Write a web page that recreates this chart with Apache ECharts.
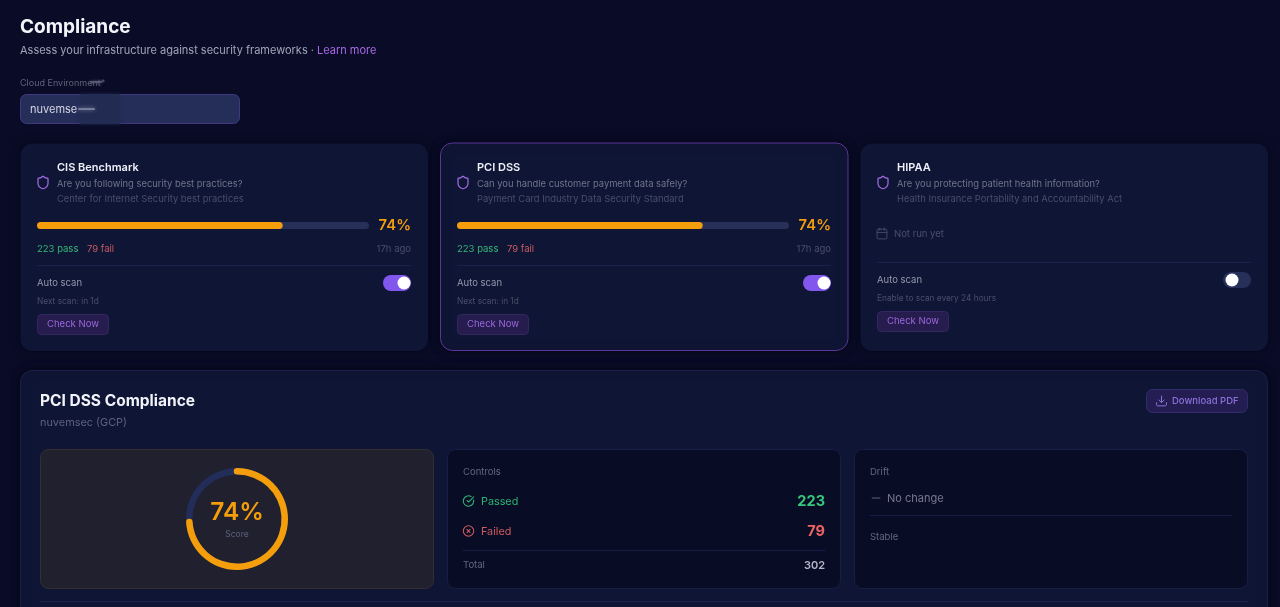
<!DOCTYPE html>
<html>
<head>
<meta charset="utf-8">
<title>Compliance</title>
<script src="https://cdn.jsdelivr.net/npm/echarts@6/dist/echarts.min.js"></script>
<style>
html,body{margin:0;padding:0;background:#0a0c27;overflow:hidden;}
#main{width:1280px;height:607px;}
</style>
</head>
<body>
<div id="main"></div>
<script>
// values
var frameworks = ['CIS Benchmark', 'PCI DSS', 'HIPAA'];
var questions = ['Are you following security best practices?', 'Can you handle customer payment data safely?', 'Are you protecting patient health information?'];
var descriptions = ['Center for Internet Security best practices', 'Payment Card Industry Data Security Standard', 'Health Insurance Portability and Accountability Act'];
var scores = [74, 74];
var passCounts = [223, 223];
var failCounts = [79, 79];
var lastRun = ['17h ago', '17h ago', 'Not run yet'];
var nextScan = ['Next scan: in 1d', 'Next scan: in 1d', 'Enable to scan every 24 hours'];
var selectedScore = [74];
var controlLabels = ['Passed', 'Failed', 'Total'];
var controlValues = [223, 79, 302];

var FONT = 'Inter, "Noto Sans", sans-serif';
var CARD_FILL = '#0f1535';
// graphic has no plain path type, so each icon is registered as a shape
var icons = {
    iconShield: 'M20 13c0 5-3.5 7.5-7.66 8.95a1 1 0 0 1-.67-.01C7.5 20.5 4 18 4 13V6a1 1 0 0 1 1-1c2 0 4.5-1.2 6.24-2.72a1.17 1.17 0 0 1 1.52 0C14.51 3.81 17 5 19 5a1 1 0 0 1 1 1z',
    iconCalendar: 'M8 2v4M16 2v4M5 4h14a2 2 0 0 1 2 2v14a2 2 0 0 1-2 2H5a2 2 0 0 1-2-2V6a2 2 0 0 1 2-2zM3 10h18',
    iconCheck: 'M21.8 10A10 10 0 1 1 17 3.34M9 11l3 3L22 4',
    iconCross: 'M12 2a10 10 0 1 0 0 20a10 10 0 1 0 0-20zM15 9l-6 6M9 9l6 6',
    iconDownload: 'M12 15V3M7 10l5 5l5-5M21 15v4a2 2 0 0 1-2 2H5a2 2 0 0 1-2-2v-4',
    iconMinus: 'M5 12h14'
};
for (var name in icons) {
    echarts.graphic.registerShape(name, echarts.graphic.extendPath(icons[name], {}));
}

var g = [];

function text(x, y, str, color, size, weight, align) {
    g.push({
        type: 'text', x: x, y: y, z: 5, silent: true,
        style: {
            text: String(str), fill: color, fontFamily: FONT, fontSize: size,
            fontWeight: weight || 400, textAlign: align || 'left', textVerticalAlign: 'middle'
        }
    });
}
function box(x, y, w, h, r, fill, stroke, extra) {
    var style = {fill: fill, stroke: stroke || null, lineWidth: stroke ? 1 : 0};
    for (var k in extra) { style[k] = extra[k]; }
    g.push({type: 'rect', z: 1, silent: true, shape: {x: x, y: y, width: w, height: h, r: r}, style: style});
}
function rule(x1, x2, y, color) {
    g.push({type: 'rect', z: 2, silent: true, shape: {x: x1, y: y, width: x2 - x1, height: 1}, style: {fill: color}});
}
function icon(type, cx, cy, size, color, width) {
    var s = size / 24;
    g.push({
        type: type, z: 5, silent: true, x: cx - size / 2, y: cy - size / 2, scaleX: s, scaleY: s,
        style: {fill: 'none', stroke: color, lineWidth: width / s, lineCap: 'round', lineJoin: 'round'}
    });
}
function toggle(x, y, on) {
    box(x, y, 28, 16, 8, on ? '#8257ee' : '#273059');
    g.push({type: 'circle', z: 3, silent: true, shape: {cx: on ? x + 21 : x + 9, cy: y + 8, r: 6.5}, style: {fill: '#ffffff'}});
}
function checkButton(x, y, w) {
    box(x + .5, y + .5, w, 20, 4, '#261c4e', '#33275f');
    text(x + w / 2 + .5, y + 10.5, 'Check Now', '#9a68dc', 9.5, 400, 'center');
}

// header
text(20, 27, 'Compliance', '#f4f5fa', 19, 700);
text(20, 50.5, 'Assess your infrastructure against security frameworks ·', '#a1a4b8', 11);
text(317, 50.5, 'Learn more', '#a768e4', 11);
text(20, 83, 'Cloud Environment*', '#5f6379', 9);
box(20.5, 94.5, 219, 29, 6, '#252d59', '#41397f');
text(30, 109.5, 'nuvemse', '#d5d7e4', 11);
// smudged part of the account name
box(80, 94, 40, 30, 0, '#222b52', null, {shadowBlur: 3, shadowColor: '#222b52'});
box(78, 108, 17, 2, 1, '#767b98', null, {shadowBlur: 4, shadowColor: '#767b98'});
box(90, 81, 12, 2, 1, '#4e526b', null, {shadowBlur: 3, shadowColor: '#4e526b'});

// framework cards
for (var i = 0; i < 3; i++) {
    var cx = 20 + i * 420;
    var selected = i === 1;
    box(cx + .5, 143 + (selected ? 0 : .5), 407.5, 207.5, 12, CARD_FILL, selected ? '#5b3599' : null,
        {shadowBlur: 10, shadowColor: 'rgba(3,4,16,0.6)'});
    var ix = cx + 17;
    icon('iconShield', ix + 6, 182.5, 15, '#a56ee8', 1.2);
    text(ix + 20, 167.5, frameworks[i], '#eef0f8', 11, 600);
    text(ix + 20, 184, questions[i], '#70748c', 9.4);
    text(ix + 20, 199, descriptions[i], '#4a4e69', 9.4);
    var by = 0;
    if (i < 2) {
        text(ix + 374, 225.5, scores[i] + '%', '#f59e0b', 14.8, 600, 'right');
        text(ix, 249.5, passCounts[i] + ' pass', '#35b777', 9.5);
        text(ix + 50, 249.5, failCounts[i] + ' fail', '#c95a60', 9.5);
        text(ix + 374, 249.5, lastRun[i], '#4a4e69', 9.5, 400, 'right');
    } else {
        icon('iconCalendar', ix + 5, 233.5, 13, '#4a4e69', .9);
        text(ix + 17, 234, lastRun[i], '#4a4e69', 9.5);
        by = -3;
    }
    rule(ix, ix + 374, 265 + by, '#1b2048');
    text(ix, 283.5 + by, 'Auto scan', '#9497ab', 9.5);
    toggle(ix + 346, 275 + by, i < 2);
    text(ix, 302 + by, nextScan[i], '#4a4e69', 8.3);
    checkButton(ix, 314 + by, 71);
}

// detail panel
box(20.5, 370.5, 1247, 260, 12, CARD_FILL, '#1b2048', {shadowBlur: 10, shadowColor: 'rgba(3,4,16,0.6)'});
text(40, 401, 'PCI DSS Compliance', '#f2f3f9', 15.5, 700);
text(40, 423, 'nuvemsec (GCP)', '#5d617b', 10.9);
box(1146.5, 389.5, 101, 23, 6, '#231d52', '#342b6e');
icon('iconDownload', 1161.5, 401, 13, '#8d70d8', 1);
text(1172, 401.5, 'Download PDF', '#8d70d8', 9.5, 500);

// score panel
box(40.5, 449.5, 393, 139, 8, '#20202e', '#352f30');

// controls panel
box(447.5, 449.5, 393, 139, 8, '#090c25', '#191c45');
text(463, 472, 'Controls', '#62667f', 9.5);
icon('iconCheck', 468.5, 501, 12.5, '#2fb673', 1.05);
text(481, 501.5, controlLabels[0], '#2fb673', 10.8);
text(825, 501.5, controlValues[0], '#36c97c', 14.5, 700, 'right');
icon('iconCross', 468.5, 531, 12.5, '#cf5a5f', 1.05);
text(481, 531.5, controlLabels[1], '#cf5a5f', 10.8);
text(825, 531.5, controlValues[1], '#ee6464', 14.5, 700, 'right');
rule(463, 825, 550, '#1b1c48');
text(463, 565.5, controlLabels[2], '#62667f', 9.5);
text(825, 565.5, controlValues[2], '#b5b8c9', 11, 600, 'right');

// drift panel
box(854.5, 449.5, 393, 139, 8, '#090c25', '#191c45');
text(870, 472, 'Drift', '#62667f', 9.5);
icon('iconMinus', 876, 498, 13, '#5d617b', 1.1);
text(887, 498.5, 'No change', '#74778f', 11);
rule(870, 1232, 515, '#1b1c48');
text(870, 537, 'Stable', '#62667f', 9.5);

rule(40, 1248, 601, '#1b2048');

function progressBar(index) {
    return {
        type: 'bar', xAxisIndex: index, yAxisIndex: index, data: [scores[index]], z: 6,
        barWidth: 7, silent: true, showBackground: true,
        backgroundStyle: {color: '#273059', borderRadius: 3.5},
        itemStyle: {color: '#f59e0b', borderRadius: 3.5}
    };
}
function hiddenValueAxis(index) {
    return {type: 'value', gridIndex: index, min: 0, max: 100, show: false};
}
function hiddenCategoryAxis(index) {
    return {type: 'category', gridIndex: index, data: [frameworks[index]], show: false};
}

var myChart = echarts.init(document.getElementById('main'));
myChart.setOption({
    animation: false,
    backgroundColor: '#0a0c27',
    tooltip: {show: false},
    grid: [
        {left: 37, top: 222, width: 332, height: 7},
        {left: 457, top: 222, width: 332, height: 7}
    ],
    xAxis: [hiddenValueAxis(0), hiddenValueAxis(1)],
    yAxis: [hiddenCategoryAxis(0), hiddenCategoryAxis(1)],
    graphic: {elements: g},
    series: [
        progressBar(0),
        progressBar(1),
        {
            type: 'gauge', z: 6, silent: true,
            center: [237, 519], radius: 51,
            startAngle: 90, endAngle: -270, min: 0, max: 100,
            pointer: {show: false},
            axisLine: {lineStyle: {width: 6.5, color: [[1, '#232d59']]}},
            progress: {show: true, width: 6.5, roundCap: true, itemStyle: {color: '#f59e0b'}},
            axisTick: {show: false},
            splitLine: {show: false},
            axisLabel: {show: false},
            title: {offsetCenter: [0, 15], color: '#5d617b', fontSize: 8.5, fontFamily: FONT},
            detail: {
                offsetCenter: [0, -6], formatter: '{value}%', color: '#f59e0b',
                fontSize: 24.5, fontWeight: 600, fontFamily: FONT
            },
            data: [{value: selectedScore[0], name: 'Score'}]
        }
    ]
});
</script>
</body>
</html>
